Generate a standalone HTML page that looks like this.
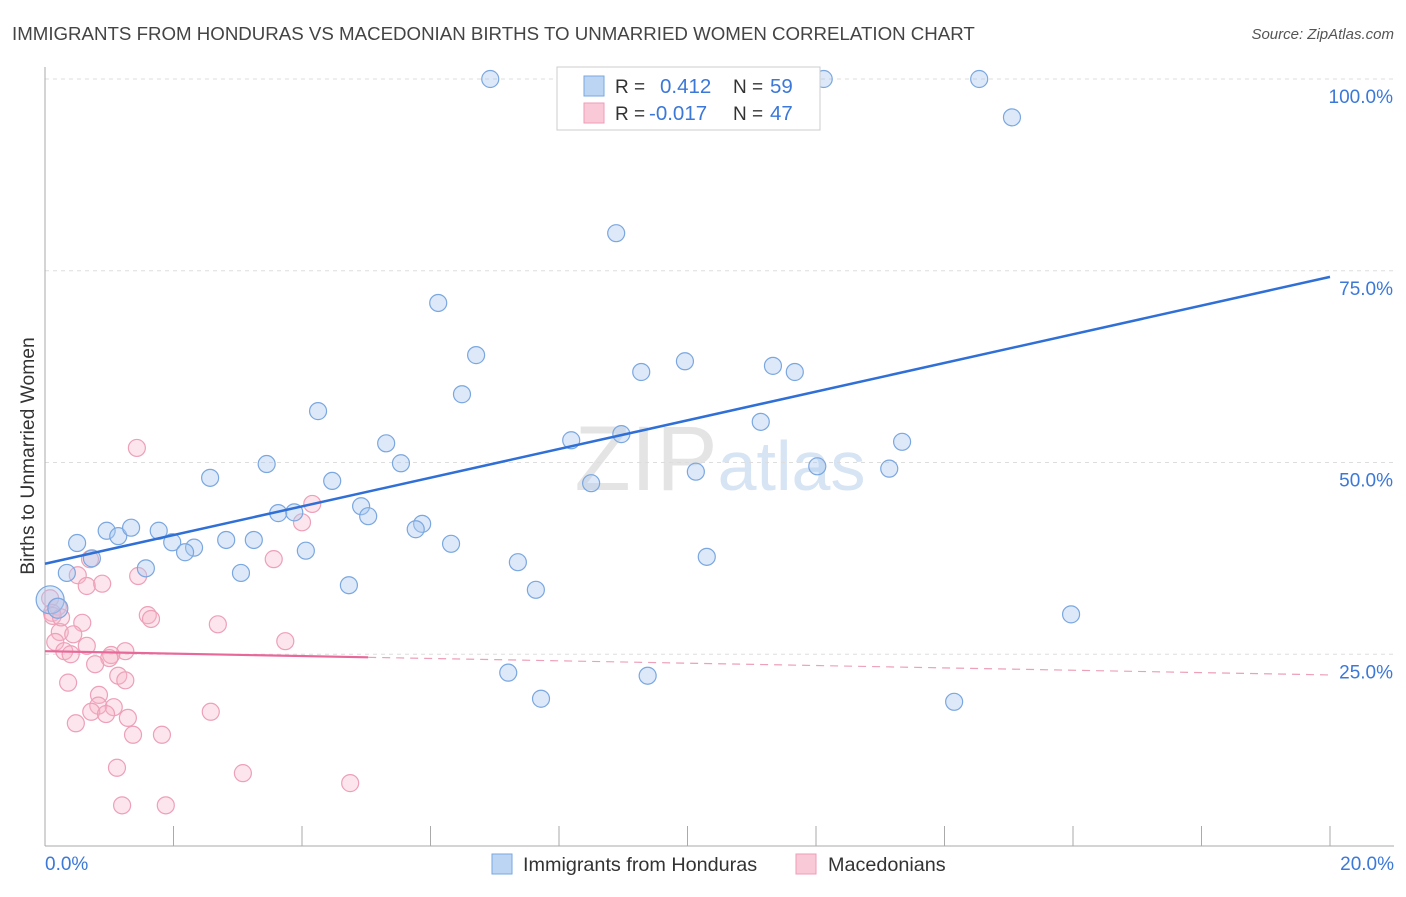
<!DOCTYPE html>
<html><head><meta charset="utf-8"><style>
body{margin:0;background:#fff;font-family:"Liberation Sans",sans-serif;}
svg text{font-family:"Liberation Sans",sans-serif;}
</style></head><body>
<svg id="chart" width="1406" height="892" xmlns="http://www.w3.org/2000/svg">
<text x="12" y="40" font-size="18.7" fill="#444">IMMIGRANTS FROM HONDURAS VS MACEDONIAN BIRTHS TO UNMARRIED WOMEN CORRELATION CHART</text>
<text x="1394" y="39" font-size="15" fill="#555" text-anchor="end" font-style="italic">Source: ZipAtlas.com</text>
<text x="720" y="490" font-size="92" fill="#e4e4e4" text-anchor="middle" font-family="Liberation Serif">ZIP<tspan fill="#d6e4f3" font-family="Liberation Sans" font-size="70">atlas</tspan></text>
<g id="grid"></g><g id="axes"></g><g id="marks"></g>
<text transform="translate(34,456) rotate(-90)" font-size="19.3" fill="#333" text-anchor="middle">Births to Unmarried Women</text>
<g>
<rect x="557" y="67" width="263" height="63" fill="#fff" stroke="#ccc"/>
<rect x="584" y="76" width="20" height="20" fill="#bcd5f3" stroke="#7aa7e0"/>
<rect x="584" y="103" width="20" height="20" fill="#f9c9d7" stroke="#ee9db7"/>
<text x="615" y="93" font-size="19" fill="#333">R = </text><text x="660" y="93" font-size="20.5" fill="#3b78d8">0.412</text>
<text x="733" y="93" font-size="19" fill="#333">N = </text><text x="770" y="93" font-size="20.5" fill="#3b78d8">59</text>
<text x="615" y="120" font-size="19" fill="#333">R = </text><text x="649" y="120" font-size="20.5" fill="#3b78d8">-0.017</text>
<text x="733" y="120" font-size="19" fill="#333">N = </text><text x="770" y="120" font-size="20.5" fill="#3b78d8">47</text>
</g>
<g>
<rect x="492" y="854" width="20" height="20" fill="#bcd5f3" stroke="#7aa7e0"/>
<text x="523" y="871" font-size="19.8" fill="#333">Immigrants from Honduras</text>
<rect x="796" y="854" width="20" height="20" fill="#f9c9d7" stroke="#ee9db7"/>
<text x="828" y="871" font-size="19.8" fill="#333">Macedonians</text>
</g>
</svg>
<script>
const xTicks=[0,20];
const yTicks=[25,50,75,100];
const blueX=[6.93,12.12,14.54,15.05,8.89,6.12,6.71,9.28,9.96,11.33,11.67,6.49,4.25,11.14,5.31,8.19,8.97,13.34,3.45,5.54,12.02,13.14,10.13,2.57,4.47,8.50,4.92,3.63,3.88,5.03,5.87,5.77,0.96,1.77,1.14,1.34,0.50,1.98,2.82,3.25,6.32,2.32,2.18,4.06,0.73,7.36,10.30,1.57,0.34,3.05,4.73,7.64,0.08,15.97,7.21,9.38,7.72,14.15,0.2];
const blueY=[100,100,100,95.0,79.9,70.8,64.0,61.8,63.2,62.6,61.8,58.9,56.7,55.3,52.5,52.9,53.7,52.7,49.8,49.9,49.5,49.2,48.8,48.0,47.6,47.3,44.3,43.4,43.5,43.0,42.0,41.3,41.1,41.1,40.4,41.5,39.5,39.6,39.9,39.9,39.4,38.9,38.3,38.5,37.5,37.0,37.7,36.2,35.6,35.6,34.0,33.4,32.1,30.2,22.6,22.2,19.2,18.8,31.0];
const pinkX=[1.43,4.16,4.00,0.70,3.56,0.51,1.45,0.65,0.89,0.08,0.20,0.11,1.60,1.65,2.69,0.58,0.23,0.44,3.74,0.16,0.65,0.30,0.40,1.25,1.03,1.00,0.78,1.14,1.25,0.36,0.84,0.83,1.07,0.72,0.95,2.58,0.48,1.29,1.37,1.82,1.12,3.08,4.75,1.20,1.88,0.12,0.25];
const pinkY=[51.9,44.6,42.2,37.4,37.4,35.3,35.2,33.9,34.2,32.3,31.2,30.4,30.1,29.6,28.9,29.1,27.9,27.6,26.7,26.6,26.1,25.4,25.0,25.4,24.9,24.5,23.7,22.2,21.6,21.3,19.7,18.3,18.1,17.5,17.2,17.5,16.0,16.7,14.5,14.5,10.2,9.5,8.2,5.3,5.3,30.0,29.8];
const blueTrend=[36.8,74.2];
const pinkTrend=[25.4,24.6,22.3];
const pinkSolidEnd=5.03;
const X=v=>45+v/20*1285, Y=v=>846-v/100*767;
const NS='http://www.w3.org/2000/svg';
function mk(tag,attrs,parent){const e=document.createElementNS(NS,tag);for(const k in attrs)e.setAttribute(k,attrs[k]);document.getElementById(parent).appendChild(e);return e;}
yTicks.forEach(t=>{
 const g=mk('line',{x1:45,x2:1394,y1:Y(t),y2:Y(t),stroke:'#ddd','stroke-dasharray':'4,4'},'grid');
 
 
 const l=mk('text',{x:1393,y:Y(t)+24,'font-size':19,fill:'#3b78d8','text-anchor':'end'},'axes');
 l.textContent=t.toFixed(1)+'%';
 
 
});
const ax=mk('line',{x1:45,x2:45,y1:67,y2:846,stroke:'#aaa'},'axes');


const bx=mk('line',{x1:45,x2:1394,y1:846,y2:846,stroke:'#aaa'},'axes');


for(let i=0;i<=10;i++){const t=mk('line',{x1:X(i*2),x2:X(i*2),y1:826,y2:846,stroke:'#aaa'},'axes');
 
 }
xTicks.forEach((t,i)=>{const l=mk('text',{x:i?1394:45,y:870,'font-size':19,fill:'#3b78d8','text-anchor':i?'end':'start'},'axes');
 l.textContent=t.toFixed(1)+'%';
 
 });
pinkX.forEach((v,i)=>{const c=mk('circle',{cx:X(v),cy:Y(pinkY[i]),r:8.5,fill:'rgba(247,180,200,0.35)',stroke:'#eda0b8','stroke-width':1.2},'marks');
 
 });
blueX.forEach((v,i)=>{const c=mk('circle',{cx:X(v),cy:Y(blueY[i]),r:i==52?14:(i==58?10:8.5),fill:'rgba(170,200,240,0.4)',stroke:'#7aa7e0','stroke-width':1.2},'marks');
 
 });
const bt=mk('line',{x1:X(0),y1:Y(blueTrend[0]),x2:X(20),y2:Y(blueTrend[1]),stroke:'#2f6fd6','stroke-width':2.5},'marks');


const pt=mk('line',{x1:X(0),y1:Y(pinkTrend[0]),x2:X(pinkSolidEnd),y2:Y(pinkTrend[1]),stroke:'#e8689a','stroke-width':2.2},'marks');


const pd=mk('line',{x1:X(pinkSolidEnd),y1:Y(pinkTrend[1]),x2:X(20),y2:Y(pinkTrend[2]),stroke:'#eda0b8','stroke-width':1.2,'stroke-dasharray':'8,6'},'marks');


</script>
</body></html>
